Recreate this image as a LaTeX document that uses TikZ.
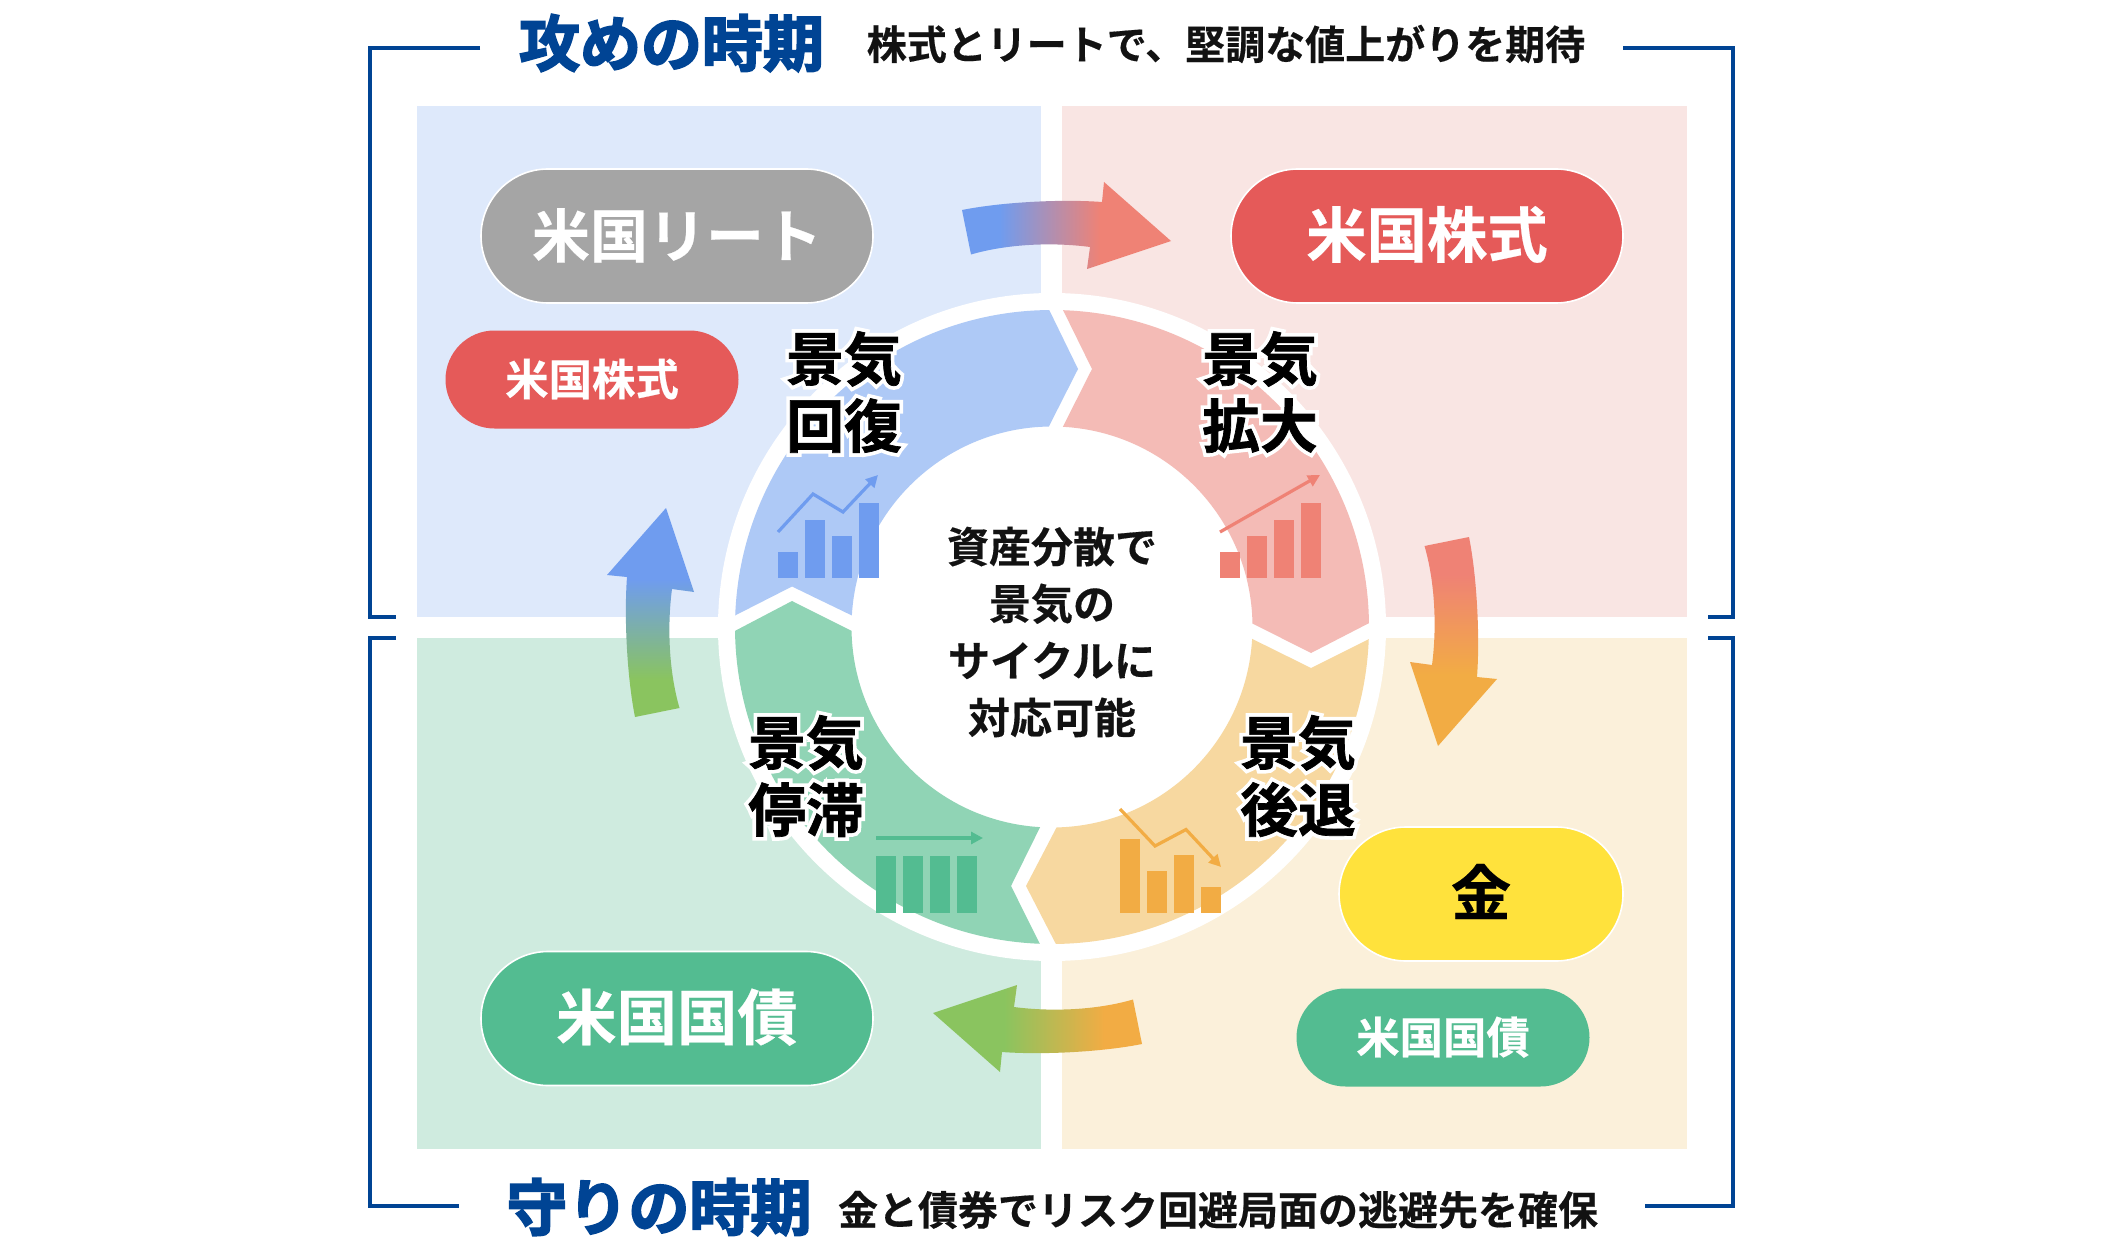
\documentclass[tikz,border=0pt]{standalone}
\usepackage{fontspec}
\setmainfont{Noto Sans CJK JP}[UprightFont=* Bold,FakeBold=.4]
\newfontfamily\jpblack{Noto Sans CJK JP}[UprightFont=* Bold,FakeBold=3]
\newfontfamily\jpheavy{Noto Sans CJK JP}[UprightFont=* Bold,FakeBold=1.2]
\newfontfamily\jphalo{Noto Sans CJK JP}[UprightFont=* Bold,FakeBold=14]
\usetikzlibrary{arrows.meta}
\tikzset{>={Triangle[length=6pt,width=6pt]}}
\definecolor{navy}{HTML}{004494}
\definecolor{bluepanel}{HTML}{DEE9FB}
\definecolor{redpanel}{HTML}{F9E5E3}
\definecolor{greenpanel}{HTML}{CFEBDF}
\definecolor{orangepanel}{HTML}{FBF0DA}
\definecolor{bluering}{HTML}{AEC9F6}
\definecolor{redring}{HTML}{F4BBB6}
\definecolor{greenring}{HTML}{90D4B5}
\definecolor{orangering}{HTML}{F7D8A0}
\definecolor{blueicon}{HTML}{6F9CEF}
\definecolor{redicon}{HTML}{EF8275}
\definecolor{greenicon}{HTML}{53BC91}
\definecolor{orangeicon}{HTML}{F2AC44}
\definecolor{greypill}{HTML}{A5A5A5}
\definecolor{redpill}{HTML}{E55A59}
\definecolor{goldpill}{HTML}{FFE23C}
\definecolor{arrowa}{HTML}{6F9CEF}
\definecolor{arrowb}{HTML}{EF8275}
\pgfdeclarehorizontalshading[arrowa,arrowb]{arrowfade}{100bp}{color(0bp)=(arrowa);color(34bp)=(arrowa);color(58bp)=(arrowb);color(100bp)=(arrowb)}
\tikzset{
  panel/.style={fill=#1},
  bracket/.style={draw=navy,line width=1.7pt},
  bigpill/.style={draw=white,line width=.8pt,fill=#1,rounded corners=33.5pt,minimum width=196pt,minimum height=67pt,inner sep=0pt,text=white,text height=24pt,text depth=2.6pt,font=\fontsize{30.2}{32}\selectfont},
  smallpill/.style={fill=#1,rounded corners=24.5pt,minimum width=146.5pt,minimum height=49pt,inner sep=0pt,text=white,text height=18pt,text depth=2pt,font=\fontsize{21.7}{26}\selectfont},
  phase/.style={align=center,inner sep=0pt,text=black,font=\jpheavy\fontsize{28.9}{33.5}\selectfont},
  headline/.style={inner sep=0pt,text=navy,font=\jpblack\fontsize{30.5}{36}\selectfont},
  subline/.style={inner sep=0pt,text=black!93,font=\fontsize{20}{24}\selectfont},
}
\newcommand*{\halo}[1]{\leavevmode\rlap{\jphalo\color{white}#1}#1}
\newcommand*{\barchart}[7]{% colour, left, base, four tops
  \foreach \n/\t in {0/#4,1/#5,2/#6,3/#7}
    \fill[#1] ({#2+27*\n},-#3) rectangle ({#2+27*\n+20},-\t);
}

\begin{document}
\begin{tikzpicture}[x=.5pt,y=.5pt]
\path[use as bounding box,fill=white] (0,0) rectangle (2104,-1246);
\coordinate (C) at (1052,-627);
% panels
\fill[panel=bluepanel] (417,-106) rectangle (1041,-617);
\fill[panel=redpanel] (1062,-106) rectangle (1687,-617);
\fill[panel=greenpanel] (417,-638) rectangle (1041,-1149);
\fill[panel=orangepanel] (1062,-638) rectangle (1687,-1149);
% brackets
\draw[bracket] (480,-48) -- (370,-48) -- (370,-617) -- (396,-617);
\draw[bracket] (1623,-48) -- (1733,-48) -- (1733,-617) -- (1708,-617);
\draw[bracket] (396,-638) -- (370,-638) -- (370,-1206) -- (459,-1206);
\draw[bracket] (1708,-638) -- (1733,-638) -- (1733,-1206) -- (1645,-1206);
\node[headline] (attack) at (671.5,-43) {攻めの時期};
\node[subline] (attacknote) at (1226,-44) {株式とリートで、堅調な値上がりを期待};
\node[headline] (defend) at (659,-1207) {守りの時期};
\node[subline] (defendnote) at (1218,-1210) {金と債券でリスク回避局面の逃避先を確保};
% ring
\fill[white] (C) circle[radius=334];
\begin{scope}[shift={(C)}]
\fill[bluering] (177.9:317) arc[start angle=177.9,end angle=90.5,radius=317] -- (26,258) -- (90.9:200.5) arc[start angle=90.9,end angle=176.7,radius=200.5] -- (-260,40.5) -- cycle;
\fill[redring] (88:317) arc[start angle=88,end angle=.7,radius=317] -- (259,-26) -- (1:200.5) arc[start angle=1,end angle=86.9,radius=200.5] -- (40,258) -- cycle;
\fill[orangering] (-2.2:317) arc[start angle=-2.2,end angle=-89.3,radius=317] -- (-26,-259) -- (-88.7:200.5) arc[start angle=-88.7,end angle=-3.4,radius=200.5] -- (259,-41) -- cycle;
\fill[greenring] (-92.2:317) arc[start angle=-92.2,end angle=-179.3,radius=317] -- (-260,26) -- (-178.9:200.5) arc[start angle=-178.9,end angle=-93.4,radius=200.5] -- (-41,-259) -- cycle;
\end{scope}
% icons
\barchart{blueicon}{778}{578}{552}{520}{536}{503}
\draw[blueicon,line width=1.6pt,->] (778,-532) -- (813,-494) -- (843,-512) -- (878,-475);
\barchart{redicon}{1220}{578}{552}{536}{520}{503}
\draw[redicon,line width=1.6pt,->] (1220,-532) -- (1320,-475);
\barchart{orangeicon}{1120}{913}{839}{871}{855}{887}
\draw[orangeicon,line width=1.6pt,->] (1120,-809) -- (1155,-846) -- (1186,-829.5) -- (1221,-867);
\barchart{greenicon}{876}{913}{855.5}{855.5}{855.5}{855.5}
\draw[greenicon,line width=1.6pt,->] (876,-838) -- (983,-838);
% phase labels
\node[phase] (recovery) at (844,-392) {\halo{景気}\\\halo{回復}};
\node[phase] (expansion) at (1260,-392) {\halo{景気}\\\halo{拡大}};
\node[phase] (stagnation) at (806,-776) {\halo{景気}\\\halo{停滞}};
\node[phase] (recession) at (1298,-776) {\halo{景気}\\\halo{後退}};
\node[align=center,inner sep=0pt,text=black!93,font=\fontsize{21}{28.5}\selectfont] (centre) at (1052,-632) {資産分散で\\景気の\\サイクルに\\対応可能};
% pills
\node[bigpill=greypill] (reit) at (677,-236) {\fontsize{29}{32}\selectfont 米国リート};
\node[smallpill=redpill] (stockb) at (592,-379.5) {米国株式};
\node[bigpill=redpill] (stocka) at (1427,-236) {米国株式};
\node[bigpill=greenicon] (bonda) at (677,-1018.5) {米国国債};
\node[bigpill=goldpill,minimum width=142pt,text=black] (gold) at (1481,-894) {金};
\node[smallpill=greenicon] (bondb) at (1443,-1037.5) {米国国債};
% cycle arrows
\foreach \ang/\ca/\cb in {0/blueicon/redicon,90/redicon/orangeicon,180/orangeicon/arrowgreen,270/arrowgreen/blueicon}{
  \definecolor{arrowgreen}{HTML}{8AC45F}
  \colorlet{arrowa}{\ca}
  \colorlet{arrowb}{\cb}
  \shade[shift={(C)},rotate=-\ang,shading=arrowfade,shading angle=-\ang]
    (-90,417) .. controls (-50,425) and (10,428) .. (50,425) -- (52,445) -- (119,386) -- (35,358) -- (38,380)
    .. controls (0,385) and (-45,383) .. (-81,372.5) -- cycle;
}
\end{tikzpicture}
\end{document}
